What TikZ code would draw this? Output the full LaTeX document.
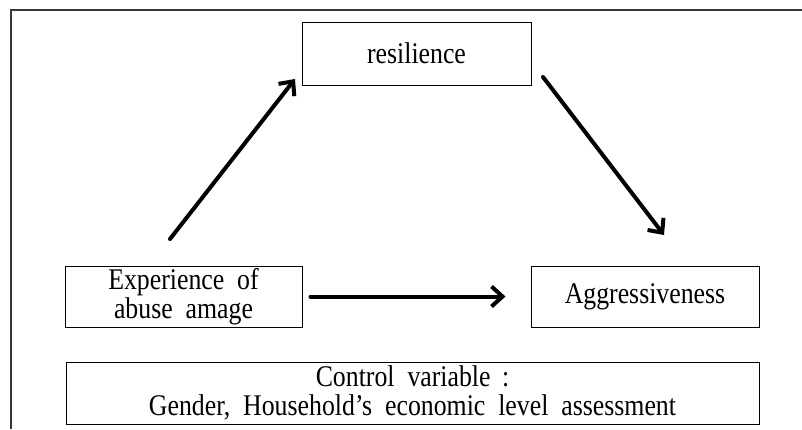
\documentclass[tikz,border=0pt]{standalone}
\usepackage{fontspec}
\setmainfont[FakeStretch=0.86]{Liberation Serif}
\usetikzlibrary{arrows.meta}
\begin{document}
\begin{tikzpicture}[x=1pt,y=-1pt,
  box/.style={draw=black, line width=1pt, inner sep=0pt, align=center,
    font=\fontsize{30}{29}\selectfont},
  arr/.style={line width=4pt, line cap=round,
    -{Straight Barb[length=11pt,width=20pt,line width=4pt]}}]
\useasboundingbox (0,0) rectangle (802,429);
\draw[line width=1.8pt, color=black!78] (11,429) -- (11,10) -- (802,10);
\node[box, minimum width=229pt, minimum height=63pt] (res) at (416.5,53.5) {resilience};
\node[box, minimum width=237pt, minimum height=61pt] (exp) at (183.5,296.5) {Experience \ of\\abuse \ amage};
\node[box, minimum width=228pt, minimum height=61pt] (agg) at (645,296.5) {Aggressiveness};
\node[box, minimum width=693pt, minimum height=62pt] (ctl) at (412.5,393) {Control \ variable \,:\\Gender, \ Household’s \ economic \ level \ assessment};
\coordinate (a1s) at (170,239);
\coordinate (a1e) at (295,79);
\coordinate (a2s) at (543,77);
\coordinate (a2e) at (664,235);
\draw[arr] (a1s) -- (a1e);
\draw[arr] (a2s) -- (a2e);
\draw[arr, shorten <=8pt, shorten >=25pt] (exp.east) -- (agg.west);
\end{tikzpicture}
\end{document}
